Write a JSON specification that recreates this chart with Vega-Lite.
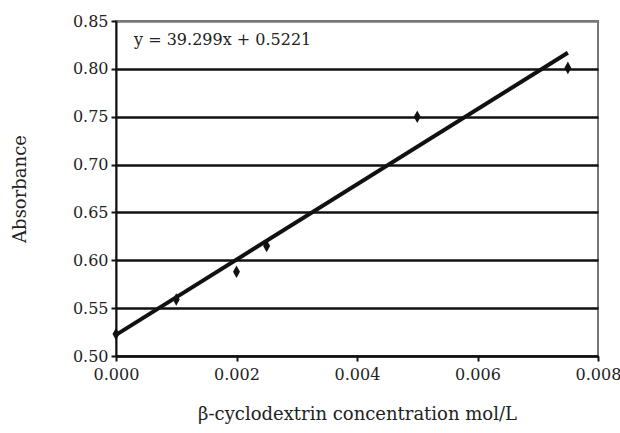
{
  "$schema": "https://vega.github.io/schema/vega-lite/v6.json",
  "width": 482,
  "height": 335,
  "autosize": {"type": "none"},
  "padding": {"left": 116, "top": 21, "right": 22, "bottom": 77},
  "background": "white",
  "config": {
    "font": "DejaVu Serif",
    "view": {"stroke": "#777", "strokeWidth": 2},
    "axis": {
      "labelFont": "DejaVu Serif",
      "titleFont": "DejaVu Serif",
      "labelFontSize": 16,
      "titleFontSize": 18,
      "labelColor": "#222",
      "titleColor": "#222",
      "titleFontWeight": "normal",
      "domainColor": "#111",
      "domainWidth": 2,
      "tickColor": "#111",
      "tickWidth": 2,
      "tickSize": 5,
      "labelFlush": false
    }
  },
  "datasets": {
    "points": [
      {"conc": 0.0, "abs": 0.523},
      {"conc": 0.001, "abs": 0.559},
      {"conc": 0.002, "abs": 0.588},
      {"conc": 0.0025, "abs": 0.615},
      {"conc": 0.005, "abs": 0.750},
      {"conc": 0.0075, "abs": 0.801}
    ],
    "fit": [
      {"conc": 0.0, "abs": 0.5221},
      {"conc": 0.0075, "abs": 0.8168}
    ],
    "note": [
      {"label": "y = 39.299x + 0.5221"}
    ]
  },
  "layer": [
    {
      "data": {"name": "fit"},
      "mark": {"type": "line", "color": "#111", "strokeWidth": 4},
      "encoding": {
        "x": {
          "field": "conc", "type": "quantitative",
          "scale": {"domain": [0, 0.008], "nice": false},
          "axis": {
            "title": "β-cyclodextrin concentration mol/L",
            "values": [0, 0.002, 0.004, 0.006, 0.008],
            "format": ".3f",
            "grid": false,
            "labelPadding": 5,
            "titlePadding": 23
          }
        },
        "y": {
          "field": "abs", "type": "quantitative",
          "scale": {"domain": [0.5, 0.85], "nice": false, "zero": false},
          "axis": {
            "title": "Absorbance",
            "values": [0.5, 0.55, 0.6, 0.65, 0.7, 0.75, 0.8, 0.85],
            "format": ".2f",
            "grid": true,
            "gridColor": {"condition": {"test": "datum.value > 0.84", "value": "#777"}, "value": "#111"},
            "gridWidth": 2.5,
            "gridOpacity": 1,
            "labelPadding": 3,
            "titlePadding": 43
          }
        }
      }
    },
    {
      "data": {"name": "points"},
      "mark": {"type": "point", "shape": "M0,-1L0.55,0L0,1L-0.55,0Z", "filled": true, "color": "#111", "size": 160, "opacity": 1},
      "encoding": {
        "x": {"field": "conc", "type": "quantitative"},
        "y": {"field": "abs", "type": "quantitative"}
      }
    },
    {
      "data": {"name": "note"},
      "mark": {"type": "text", "align": "left", "baseline": "middle", "fontSize": 16, "font": "DejaVu Serif", "color": "#222"},
      "encoding": {
        "x": {"datum": 0.0003},
        "y": {"datum": 0.8305},
        "text": {"field": "label"}
      }
    }
  ]
}
